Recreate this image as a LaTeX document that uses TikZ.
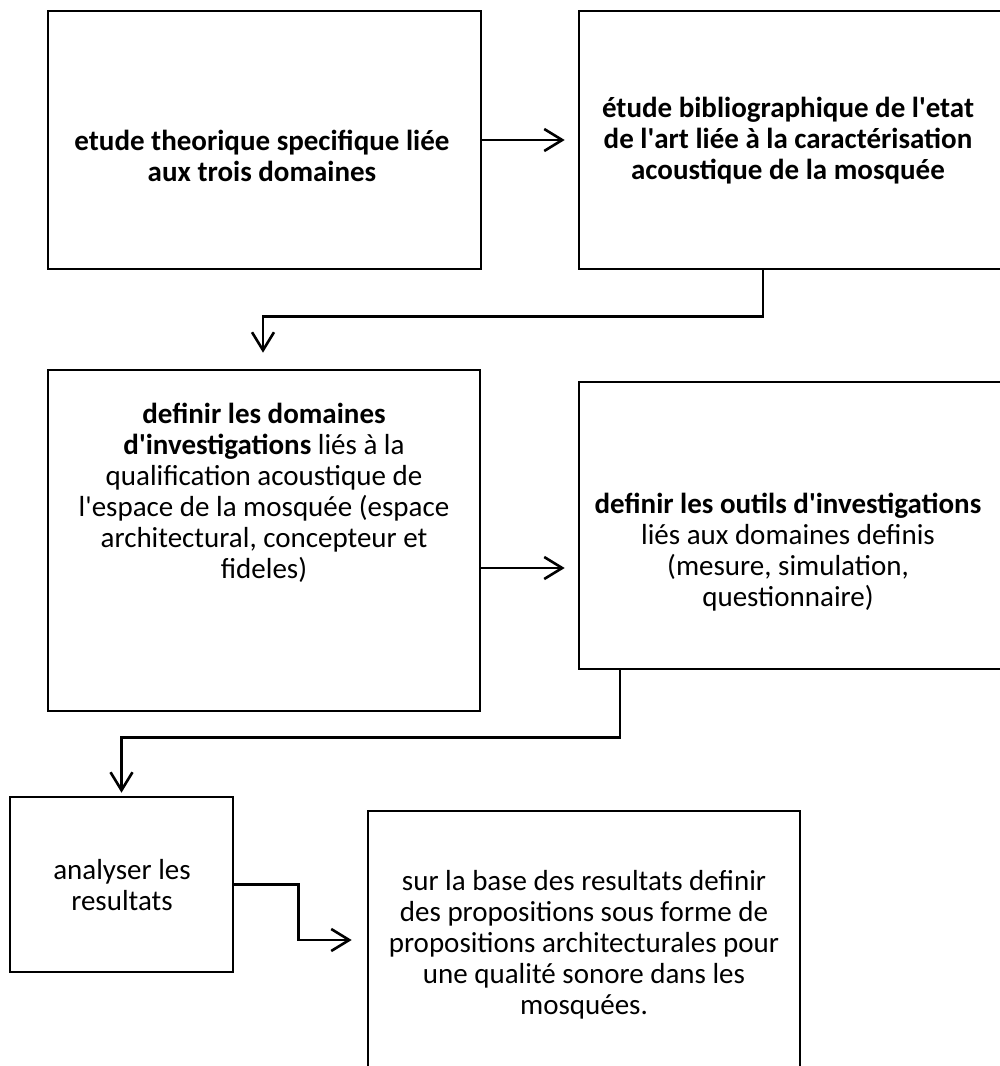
\documentclass[tikz,border=0pt]{standalone}
\usepackage{fontspec}
\setmainfont{Carlito}
\usetikzlibrary{arrows.meta,positioning}
\tikzset{
  flow/.style={x=1pt, y=-1pt, >={Straight Barb[length=18pt, width=22pt]}},
  blk/.style={draw, line width=2.6pt, rectangle, inner sep=0pt},
  txt/.style={align=center, inner sep=0pt, font=\fontsize{29}{31}\selectfont},
  arr/.style={->, line width=2.6pt}
}
\newcommand{\ap}{\textquotesingle}

\begin{document}
\begin{tikzpicture}[flow]
\useasboundingbox (0,0) rectangle (1000,1066);
% boxes
\node[blk, minimum width=433pt, minimum height=258pt] (b1) at (264.5,140) {};
\node[blk, minimum width=422pt, minimum height=258pt] (b2) at (790,140) {};
\node[blk, minimum width=432pt, minimum height=341pt] (b3) at (264,540.5) {};
\node[blk, minimum width=422pt, minimum height=287pt] (b4) at (790,525.5) {};
\node[blk, minimum width=223pt, minimum height=175pt] (b5) at (121.5,884.5) {};
\node[blk, minimum width=432pt, minimum height=269pt] (b6) at (584,945.5) {};
% texts
\node[txt, font=\fontsize{29}{31}\selectfont\bfseries] (t1) at (262,156) {etude theorique specifique liée\\aux trois domaines};
\node[txt, font=\fontsize{29}{31}\selectfont\bfseries] (t2) at (788,141) {étude bibliographique de l\ap etat\\de l\ap art liée à la caractérisation\\acoustique de la mosquée};
\node[txt] (t3) at (264,493) {\textbf{definir les domaines}\\\textbf{d\ap investigations} liés à la\\qualification acoustique de\\l\ap espace de la mosquée (espace\\architectural, concepteur et\\fideles)};
\node[txt] (t4) at (788,552) {\textbf{definir les outils d\ap investigations}\\liés aux domaines definis\\(mesure, simulation,\\questionnaire)};
\node[txt] (t5) at (122,885) {analyser les\\resultats};
\node[txt] (t6) at (584,945) {sur la base des resultats definir\\des propositions sous forme de\\propositions architecturales pour\\une qualité sonore dans les\\mosquées.};
% connectors
\draw[arr, shorten >=13pt] (b1.east) -- (b2.west);
\draw[arr, shorten >=16pt] ([xshift=-27pt]b2.south) -- ++(0,46) -| ([xshift=-1pt]b3.north);
\draw[arr, shorten >=13pt] (b3.east |- 0,568) -- (b4.west |- 0,568);
\draw[arr, shorten >=3pt] ([xshift=-170pt]b4.south) -- ++(0,67) -| (b5.north);
\draw[arr, shorten >=15pt] (b5.east) -- ++(64,0) |- (b6.west |- 0,940);
\end{tikzpicture}
\end{document}
